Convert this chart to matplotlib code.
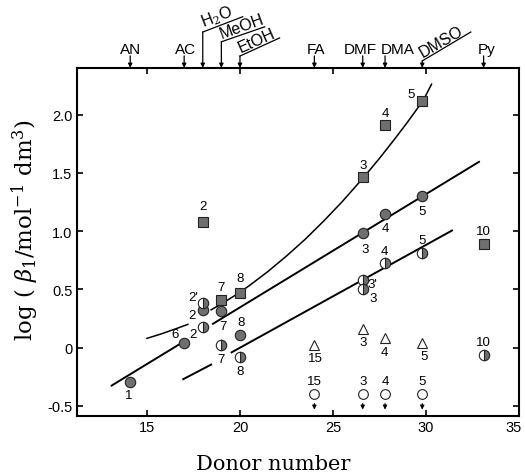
import matplotlib
matplotlib.use('Agg')
import matplotlib.pyplot as plt
from matplotlib.transforms import ScaledTranslation

# solvents and their donor numbers (top scale)
solvents = ['AN', 'AC', 'H$_2$O', 'MeOH', 'EtOH', 'FA', 'DMF', 'DMA', 'DMSO', 'Py']
donor_numbers = [14.1, 17.0, 18.0, 19.0, 20.0, 24.0, 26.6, 27.8, 29.8, 33.1]

# filled squares
sq_dn = [18.0, 19.0, 20.0, 26.6, 27.8, 29.8, 33.1]
sq_logb = [1.08, 0.41, 0.47, 1.465, 1.91, 2.12, 0.89]
sq_ids = ['2', '7', '8', '3', '4', '5', '10']

# filled circles
fc_dn = [14.1, 17.0, 18.0, 19.0, 20.0, 26.6, 27.8, 29.8]
fc_logb = [-0.29, 0.04, 0.32, 0.315, 0.11, 0.985, 1.15, 1.30]
fc_ids = ['1', '6', '2', '7', '8', '3', '4', '5']

# half-filled circles
hc_dn = [18.0, 18.0, 19.0, 20.0, 26.6, 26.6, 27.8, 29.8, 33.1]
hc_logb = [0.386, 0.18, 0.02, -0.08, 0.578, 0.50, 0.727, 0.81, -0.06]
hc_ids = ["2'", '2', '7', '8', "3'", '3', '4', '5', '10']

# open triangles
tri_dn = [24.0, 26.6, 27.8, 29.8]
tri_logb = [0.026, 0.163, 0.083, 0.04]
tri_ids = ['15', '3', '4', '5']

# open circles (upper limits, arrows down)
oc_dn = [24.0, 26.6, 27.8, 29.8]
oc_logb = [-0.395, -0.395, -0.395, -0.395]
oc_ids = ['15', '3', '4', '5']

# trend lines
curve1_x = [15.0, 15.8, 16.6, 17.2]
curve1_y = [0.08, 0.12, 0.165, 0.20]
curve2_x = [18.45, 19.0, 19.8, 20.5, 21.5, 22.5, 23.5, 24.5, 25.5, 26.7, 27.5, 28.3, 29.0, 29.85, 30.3]
curve2_y = [0.325, 0.375, 0.455, 0.532, 0.653, 0.786, 0.929, 1.086, 1.253, 1.47, 1.624, 1.786, 1.933, 2.12, 2.26]
mid_seg1 = ([13.1, 17.1], [-0.325, 0.064])
mid_seg2 = ([18.55, 32.85], [0.205, 1.594])
low_seg1 = ([16.95, 18.45], [-0.27, -0.145])
low_seg2 = ([19.55, 31.4], [-0.04, 1.005])

plt.rcParams['font.family'] = ['Liberation Sans', 'DejaVu Sans']
plt.rcParams['mathtext.fontset'] = 'dejavuserif'

fig = plt.figure(figsize=(5.25, 4.77), dpi=100)
ax = fig.add_axes([0.146, 0.126, 0.8425, 0.7296])
ax.set_xlim(11.22, 35.0)
ax.set_ylim(-0.585, 2.40)

gray = '#6f6f6f'
ax.plot(curve1_x, curve1_y, color='k', lw=1.1)
ax.plot(curve2_x, curve2_y, color='k', lw=1.1)
for xs, ys in (mid_seg1, mid_seg2, low_seg1, low_seg2):
    ax.plot(xs, ys, color='k', lw=1.4)

mk = dict(linestyle='none', markeredgecolor='#222222', markeredgewidth=0.8, zorder=3)
ax.plot(sq_dn, sq_logb, marker='s', markersize=7, markerfacecolor=gray, **mk)
ax.plot(fc_dn, fc_logb, marker='o', markersize=7.5, markerfacecolor=gray, **mk)
ax.plot(hc_dn, hc_logb, marker='o', markersize=7.5, markerfacecolor=gray,
        fillstyle='right', markerfacecoloralt='white', **mk)
ax.plot(tri_dn, tri_logb, marker='^', markersize=7, markerfacecolor='white', **mk)
ax.plot(oc_dn, oc_logb, marker='o', markersize=7, markerfacecolor='white', **mk)

# number labels, offsets in points
sq_off = [(0, 11.5), (0, 9.2), (0, 10.8), (0, 8.8), (0, 8.8), (-8, 5), (0, 9.4)]
fc_off = [(-1, -9.4), (-6.5, 6.5), (-7.6, -3.6), (1.5, -10.8), (0.7, 9.4), (1.5, -11.5), (0, -10), (0, -10.8)]
hc_off = [(-6.5, 4.3), (-7.2, -5), (0, -10), (0, -10), (7.2, -2.9), (7.2, -6.5), (-0.7, 8.6), (0, 9.4), (0, 9.4)]
tri_off = [(0.7, -9.4), (0, -9.4), (-0.7, -10), (1.4, -9.4)]
oc_off = [(0, 9.4)] * 4

lab = dict(textcoords='offset points', ha='center', va='center', fontsize=9.5)
for xs, ys, ids, offs in ((sq_dn, sq_logb, sq_ids, sq_off), (fc_dn, fc_logb, fc_ids, fc_off),
                          (hc_dn, hc_logb, hc_ids, hc_off), (tri_dn, tri_logb, tri_ids, tri_off),
                          (oc_dn, oc_logb, oc_ids, oc_off)):
    for x, y, t, o in zip(xs, ys, ids, offs):
        ax.annotate(t, (x, y), xytext=o, **lab)

for x in oc_dn:
    ax.annotate('', xy=(x, -0.555), xytext=(x, -0.455),
                arrowprops=dict(arrowstyle='-|>', color='k', lw=0.8, mutation_scale=6))

# solvent names above the top axis (label shift in data units)
tr = ax.get_xaxis_transform()
straight = {'AN': 0.0, 'AC': 0.05, 'FA': 0.1, 'DMF': -0.15, 'DMA': 0.7, 'Py': 0.15}
for name, dn in zip(solvents, donor_numbers):
    if name in straight:
        ax.annotate('', xy=(dn, 1.0), xytext=(dn, 1.0345), xycoords=tr, textcoords=tr,
                    arrowprops=dict(arrowstyle='-|>', color='k', lw=0.9, mutation_scale=6,
                                    shrinkA=0, shrinkB=0))
        ax.text(dn + straight[name], 1.034, name, transform=tr, ha='center', va='bottom',
                fontsize=11)

# bent leaders: (bend height, end x, end height, text angle)
bent = {'H$_2$O': (1.103, 20.15, 1.147, 21),
        'MeOH': (1.075, 21.33, 1.118, 20),
        'EtOH': (1.034, 22.13, 1.086, 24),
        'DMSO': (1.02, 32.41, 1.103, 30)}
for name, dn in zip(solvents, donor_numbers):
    if name in bent:
        yb, xe, ye, ang = bent[name]
        ax.plot([dn, xe], [yb, ye], color='k', lw=0.9, transform=tr, clip_on=False)
        ax.annotate('', xy=(dn, 1.0), xytext=(dn, yb), xycoords=tr, textcoords=tr,
                    arrowprops=dict(arrowstyle='-|>', color='k', lw=0.9, mutation_scale=6,
                                    shrinkA=0, shrinkB=0))
        ax.text(dn + 0.1, yb + 0.004, name, transform=tr, ha='left', va='bottom',
                rotation=ang, rotation_mode='anchor', fontsize=11.5)

ax.set_xticks([15, 20, 25, 30, 35])
ax.set_yticks([-0.5, 0, 0.5, 1.0, 1.5, 2.0])
ax.set_yticklabels(['-0.5', '0', '0.5', '1.0', '1.5', '2.0'])
ax.tick_params(direction='in', top=True, right=True, length=4, width=1.2,
               labelsize=10.5, pad=3)
for s in ax.spines.values():
    s.set_linewidth(1.5)

# keep the last x tick label inside the figure
last = ax.get_xticklabels()[-1]
last.set_transform(last.get_transform() + ScaledTranslation(-0.05, 0, fig.dpi_scale_trans))

fig.text(273 / 525, 1 - 465 / 477, 'Donor number', family='DejaVu Serif',
         fontsize=15, ha='center', va='center')
fig.text(25 / 525, 1 - 230 / 477, r'log ( $\beta_1$/mol$^{-1}$ dm$^3$)', family='DejaVu Serif',
         fontsize=16.5, ha='center', va='center', rotation=90)

fig.savefig('out.png', dpi=100)
